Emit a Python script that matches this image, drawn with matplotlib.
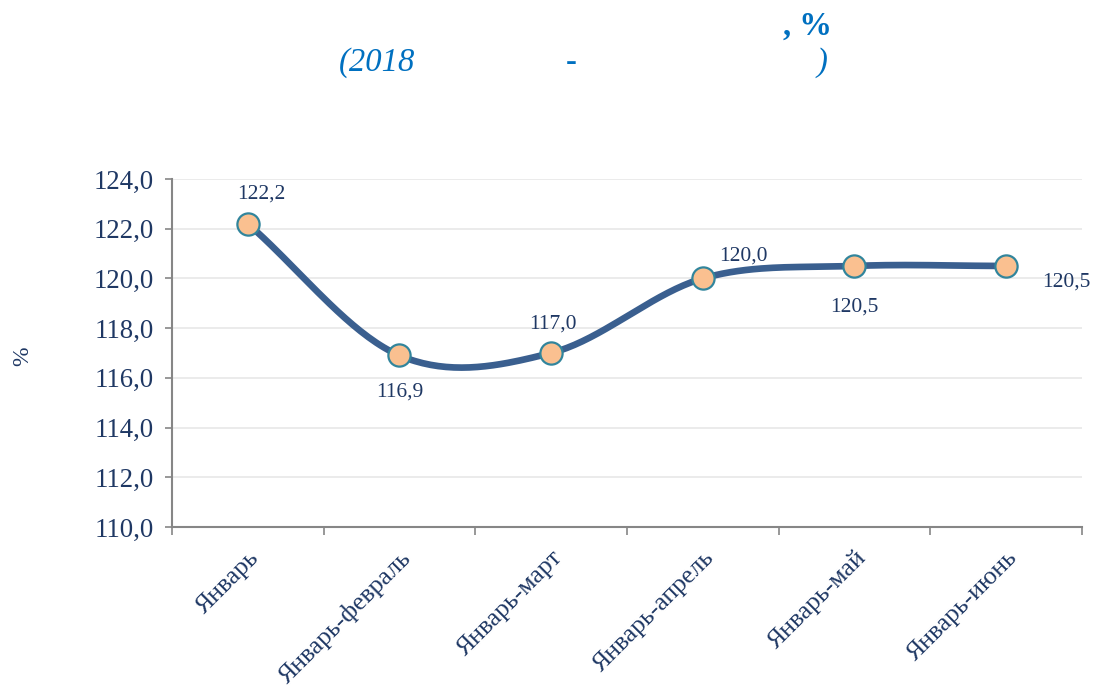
import numpy as np
import matplotlib.pyplot as plt

plt.rcParams['font.family'] = ['Liberation Serif', 'DejaVu Serif']

periods = ['Январь', 'Январь-февраль', 'Январь-март', 'Январь-апрель', 'Январь-май', 'Январь-июнь']
values = [122.2, 116.9, 117.0, 120.0, 120.5, 120.5]
value_labels = ['122,2', '116,9', '117,0', '120,0', '120,5', '120,5']
# label offsets in points (dx, dy)
label_offsets = [(10, 21), (0, -26), (1.5, 21), (29.5, 16), (0, -29.5), (43, -11.5)]

navy = '#1F3864'
line_color = '#3A5F8F'


def smooth(xs, ys, n=40):
    # Catmull-Rom spline through the points, same idea as spreadsheet smoothing
    px = np.concatenate([[2 * xs[0] - xs[1]], xs, [2 * xs[-1] - xs[-2]]])
    py = np.concatenate([[ys[0]], ys, [ys[-1]]])
    out_x, out_y = [], []
    t = np.linspace(0, 1, n)
    h00 = 2 * t**3 - 3 * t**2 + 1
    h10 = t**3 - 2 * t**2 + t
    h01 = -2 * t**3 + 3 * t**2
    h11 = t**3 - t**2
    for i in range(1, len(px) - 2):
        mx0 = (px[i + 1] - px[i - 1]) / 2
        mx1 = (px[i + 2] - px[i]) / 2
        my0 = (py[i + 1] - py[i - 1]) / 2
        my1 = (py[i + 2] - py[i]) / 2
        if i == 1:
            my0 = py[i + 1] - py[i]
        out_x.append(h00 * px[i] + h10 * mx0 + h01 * px[i + 1] + h11 * mx1)
        out_y.append(h00 * py[i] + h10 * my0 + h01 * py[i + 1] + h11 * my1)
    return np.concatenate(out_x), np.concatenate(out_y)


x = np.arange(len(periods), dtype=float)
y = np.array(values)

fig = plt.figure(figsize=(10.97, 6.98), dpi=100)
ax = fig.add_axes([0.1568, 0.245, 0.8295, 0.4986])

sx, sy = smooth(x, y)
ax.plot(sx, sy, color=line_color, linewidth=4.8, solid_capstyle='round', zorder=3)
ax.plot(x, y, linestyle='none', marker='o', markersize=16,
        markerfacecolor='#FAC090', markeredgecolor='#31859C', markeredgewidth=1.6, zorder=4)

for xi, yi, lab, (dx, dy) in zip(x, y, value_labels, label_offsets):
    ax.annotate(lab, (xi, yi), xytext=(dx, dy), textcoords='offset points',
                ha='center', va='center', fontsize=15.5, color=navy,
                annotation_clip=False)

ax.set_xlim(-0.5, len(periods) - 0.5)
ax.set_ylim(110, 124)
ax.set_yticks(np.arange(110, 124.1, 2))
ax.set_yticklabels([f'{v:.1f}'.replace('.', ',') for v in np.arange(110, 124.1, 2)],
                   fontsize=19.3, color=navy)
ax.tick_params(axis='y', length=5, color='#868686', width=1.2, pad=8)

ax.set_xticks(x)
ax.set_xticklabels(periods, rotation=45, ha='right', rotation_mode='anchor',
                   fontsize=18.5, color=navy)
ax.tick_params(axis='x', length=0, pad=14)
ax.set_xticks(np.arange(-0.5, len(periods), 1), minor=True)
ax.tick_params(axis='x', which='minor', length=6, color='#868686', width=1.2)

ax.grid(axis='y', color='#E8E8E8', linewidth=1.2)
ax.set_axisbelow(True)
for side in ['top', 'right']:
    ax.spines[side].set_visible(False)
for side in ['left', 'bottom']:
    ax.spines[side].set_color('#868686')
    ax.spines[side].set_linewidth(1.5)

fig.text(0.021, 0.49, '%', rotation=90, ha='center', va='center', fontsize=17, color=navy)

title_color = '#0070C0'
fig.text(0.714, 0.962, ', %', ha='left', va='center', fontsize=23.5, fontweight='bold', color=title_color)
fig.text(0.309, 0.910, '(2018', ha='left', va='center', fontsize=23.5, style='italic', color=title_color)
fig.text(0.521, 0.910, '-', ha='center', va='center', fontsize=23.5, style='italic', color=title_color)
fig.text(0.749, 0.910, ')', ha='center', va='center', fontsize=23.5, style='italic', color=title_color)

fig.savefig('out.png', dpi=100, facecolor='white')
